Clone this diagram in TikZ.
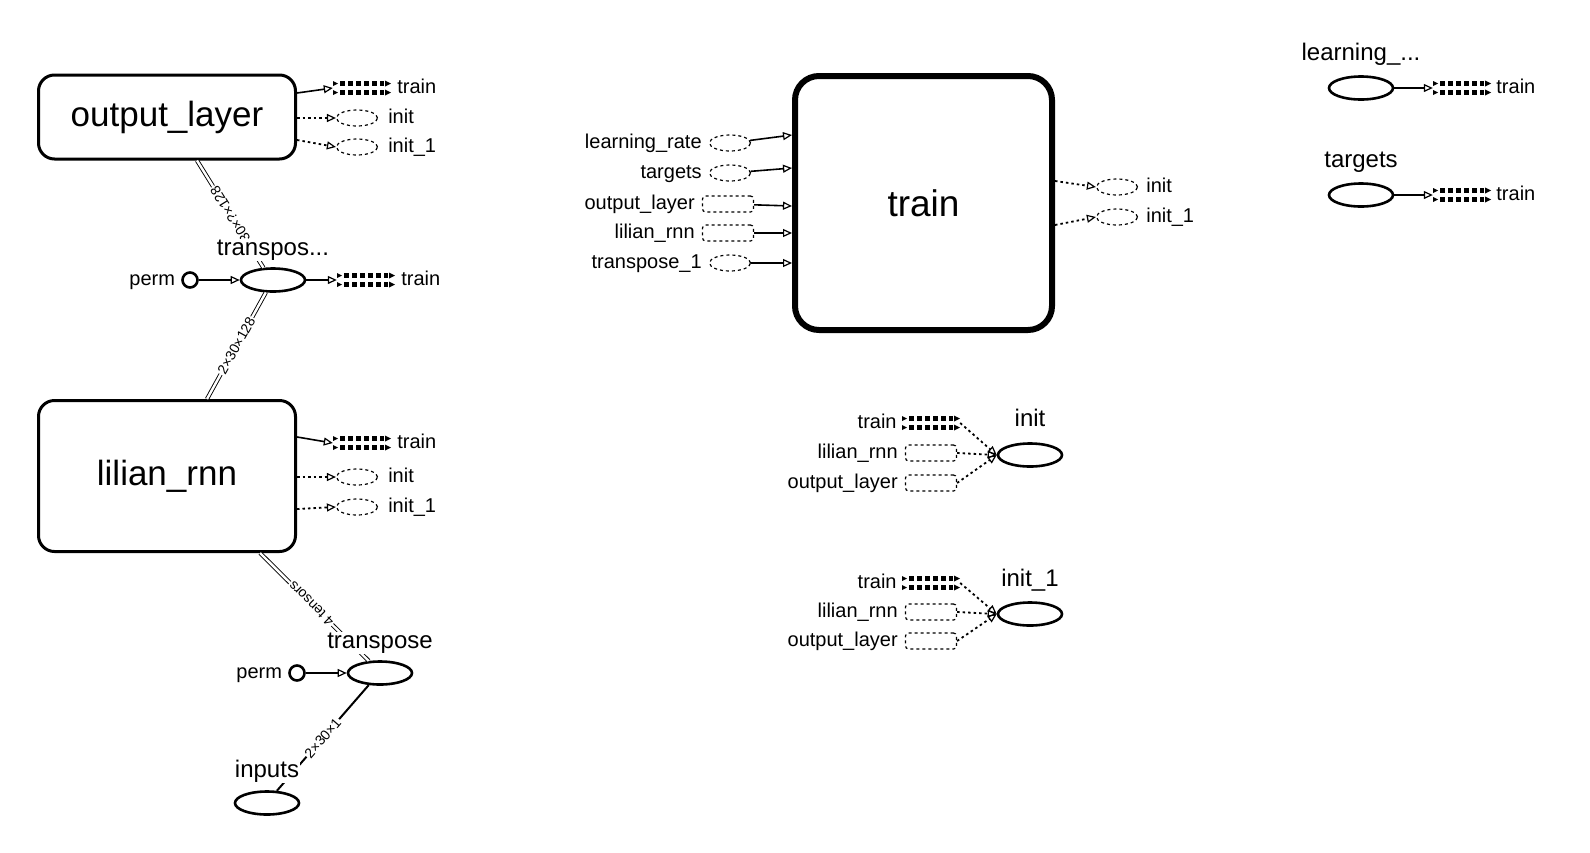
\documentclass[tikz,border=0pt]{standalone}
\usepackage{fontspec}
\setmainfont{Liberation Sans}
\usetikzlibrary{arrows.meta,shapes.geometric,positioning}

\tikzset{
	opnode/.style={ellipse, draw, line width=2.6pt, minimum width=64pt, minimum height=23pt, inner sep=0pt},
	ghostell/.style={ellipse, draw, line width=1.2pt, dash pattern=on 3pt off 3pt, minimum width=41pt, minimum height=16pt, inner sep=0pt},
	ghostbox/.style={rectangle, rounded corners=3pt, draw, line width=1.2pt, dash pattern=on 3pt off 3pt, minimum width=51pt, minimum height=16pt, inner sep=0pt},
	metanode/.style={rectangle, rounded corners=16pt, draw, line width=3pt, inner sep=0pt, font=\fontsize{35}{40}\selectfont},
	constnode/.style={circle, draw, line width=2.6pt, minimum size=15pt, inner sep=0pt},
	seriesbox/.style={rectangle, minimum width=58pt, minimum height=18pt, inner sep=0pt, path picture={
		\foreach \dy in {-4.5pt,4.5pt}{
			\draw[line width=5pt, dash pattern=on 5pt off 3pt] ([xshift=7pt,yshift=\dy]path picture bounding box.west) -- ([xshift=-7pt,yshift=\dy]path picture bounding box.east);
			\fill ([yshift=\dy+2.5pt]path picture bounding box.west) -- ++(5pt,-2.5pt) -- ++(-5pt,-2.5pt) -- cycle;
			\fill ([xshift=-6pt,yshift=\dy+3pt]path picture bounding box.east) -- ++(6pt,-3pt) -- ++(-6pt,-3pt) -- cycle;
		}}},
	lbl/.style={font=\fontsize{20}{22}\selectfont, inner sep=0pt, text height=14pt, text depth=4pt},
	ttl/.style={font=\fontsize{24}{26}\selectfont, inner sep=0.5pt, anchor=base, fill=white},
	dataarr/.style={line width=1.6pt, -{Triangle[open, length=9pt, width=8pt, line width=1.2pt]}},
	ctrlarr/.style={line width=1.8pt, dash pattern=on 2.5pt off 3pt, -{Triangle[open, length=9pt, width=8pt, line width=1.2pt]}},
	tensor/.style={double, double distance=2.4pt, line width=0.9pt},
	edgelbl/.style={font=\fontsize{14}{15}\selectfont, fill=white, inner sep=1pt, sloped, allow upside down},
}

\begin{document}
\begin{tikzpicture}[x=1pt, y=-1pt]
	\useasboundingbox (0,0) rectangle (1590,852);

	% left column
	\node[metanode, minimum width=257pt, minimum height=84pt] (out) at (167,117) {output\_layer};
	\node[metanode, minimum width=257pt, minimum height=151pt] (rnn) at (167,476) {lilian\_rnn};

	\node[seriesbox] (outTr) at (362,88) {};
	\node[lbl, right=6pt of outTr] (outTrL) {train};
	\node[ghostell] (outIn) at (357,118) {};
	\node[lbl, right=10pt of outIn] (outInL) {init};
	\node[ghostell] (outIn1) at (357,147) {};
	\node[lbl, right=10pt of outIn1] (outIn1L) {init\_1};
	\draw[dataarr] ([yshift=24pt]out.east) -- (outTr.west);
	\draw[ctrlarr] (out.east |- outIn.west) -- (outIn.west);
	\draw[ctrlarr] ([yshift=-23pt]out.east) -- (outIn1.west);

	\node[seriesbox] (rnnTr) at (362,443) {};
	\node[lbl, right=6pt of rnnTr] (rnnTrL) {train};
	\node[ghostell] (rnnIn) at (357,477) {};
	\node[lbl, right=10pt of rnnIn] (rnnInL) {init};
	\node[ghostell] (rnnIn1) at (357,507) {};
	\node[lbl, right=10pt of rnnIn1] (rnnIn1L) {init\_1};
	\draw[dataarr] ([yshift=39pt]rnn.east) -- (rnnTr.west);
	\draw[ctrlarr] (rnn.east |- rnnIn.west) -- (rnnIn.west);
	\draw[ctrlarr] ([yshift=-33pt]rnn.east) -- (rnnIn1.west);

	\node[opnode] (tr1) at (273,280) {};
	\node[constnode] (perm1) at (190,280) {};
	\node[lbl, left=6pt of perm1] (perm1L) {perm};
	\node[seriesbox] (tr1Tr) at (366,280) {};
	\node[lbl, right=6pt of tr1Tr] (tr1TrL) {train};
	\draw[dataarr] (perm1) -- (tr1);
	\draw[dataarr] (tr1) -- (tr1Tr);

	\node[opnode] (tr) at (380,673) {};
	\node[constnode] (perm) at (297,673) {};
	\node[lbl, left=6pt of perm] (permL) {perm};
	\draw[dataarr] (perm) -- (tr);

	\node[opnode] (inp) at (267,803) {};

	\draw[tensor] (tr1.128) -- node[edgelbl] {30×?×128} ([xshift=30pt]out.south);
	\draw[tensor] ([xshift=40pt]rnn.north) -- node[edgelbl] {2×30×128} (tr1.240);
	\draw[tensor] (tr.133) -- node[edgelbl, pos=0.53] {4 tensors} ([xshift=93pt]rnn.south);
	\draw[line width=2pt] (inp.51) -- node[edgelbl] {2×30×1} (tr.227);

	\node[ttl] (tr1L) at ([yshift=12pt]tr1.north) {transpos...};
	\node[ttl] (trL) at ([yshift=12pt]tr.north) {transpose};
	\node[ttl] (inpL) at ([yshift=13pt]inp.north) {inputs};

	% train
	\node[metanode, line width=6pt, rounded corners=24pt, minimum width=257pt, minimum height=254pt, font=\fontsize{37}{40}\selectfont] (train) at (923.5,203) {train};

	\node[ghostell] (gLr) at (730,143) {};
	\node[lbl, left=7pt of gLr] (gLrL) {learning\_rate};
	\node[ghostell] (gTg) at (730,173) {};
	\node[lbl, left=7pt of gTg] (gTgL) {targets};
	\node[ghostbox] (gOl) at (728,204) {};
	\node[lbl, left=7pt of gOl] (gOlL) {output\_layer};
	\node[ghostbox] (gRnn) at (728,233) {};
	\node[lbl, left=7pt of gRnn] (gRnnL) {lilian\_rnn};
	\node[ghostell] (gTp) at (730,263) {};
	\node[lbl, left=7pt of gTp] (gTpL) {transpose\_1};
	\draw[dataarr] (gLr) -- ([yshift=68pt]train.west);
	\draw[dataarr] (gTg) -- ([yshift=35pt]train.west);
	\draw[dataarr] (gOl) -- ([yshift=-3pt]train.west);
	\draw[dataarr] (gRnn) -- ([yshift=-30pt]train.west);
	\draw[dataarr] (gTp) -- ([yshift=-60pt]train.west);

	\node[ghostell] (tIn) at (1117,187) {};
	\node[lbl, right=8pt of tIn] (tInL) {init};
	\node[ghostell] (tIn1) at (1117,217) {};
	\node[lbl, right=8pt of tIn1] (tIn1L) {init\_1};
	\draw[ctrlarr] ([yshift=22pt]train.east) -- (tIn.west);
	\draw[ctrlarr] ([yshift=-22pt]train.east) -- (tIn1.west);

	% init
	\node[seriesbox] (iTr) at (931,423) {};
	\node[lbl, left=5pt of iTr] (iTrL) {train};
	\node[ghostbox] (iRnn) at (931,453) {};
	\node[lbl, left=7pt of iRnn] (iRnnL) {lilian\_rnn};
	\node[ghostbox] (iOl) at (931,483) {};
	\node[lbl, left=7pt of iOl] (iOlL) {output\_layer};
	\node[opnode] (init) at (1030,455) {};
	\node[ttl] (initL) at ([yshift=16pt]init.north) {init};
	\draw[ctrlarr] (iTr.east) -- (init.west);
	\draw[ctrlarr] (iRnn.east) -- (init.west);
	\draw[ctrlarr] (iOl.east) -- (init.west);

	% init_1
	\node[seriesbox] (jTr) at (931,583) {};
	\node[lbl, left=5pt of jTr] (jTrL) {train};
	\node[ghostbox] (jRnn) at (931,612) {};
	\node[lbl, left=7pt of jRnn] (jRnnL) {lilian\_rnn};
	\node[ghostbox] (jOl) at (931,641) {};
	\node[lbl, left=7pt of jOl] (jOlL) {output\_layer};
	\node[opnode] (init1) at (1030,614) {};
	\node[ttl] (init1L) at ([yshift=15pt]init1.north) {init\_1};
	\draw[ctrlarr] (jTr.east) -- (init1.west);
	\draw[ctrlarr] (jRnn.east) -- (init1.west);
	\draw[ctrlarr] (jOl.east) -- (init1.west);

	% right column
	\node[opnode] (lrOp) at (1361,88) {};
	\node[ttl] (lrOpL) at ([yshift=15pt]lrOp.north) {learning\_...};
	\node[seriesbox] (lrTr) at (1462,88) {};
	\node[lbl, right=5pt of lrTr] (lrTrL) {train};
	\draw[dataarr] (lrOp) -- (lrTr);

	\node[opnode] (tgOp) at (1361,195) {};
	\node[ttl] (tgOpL) at ([yshift=15pt]tgOp.north) {targets};
	\node[seriesbox] (tgTr) at (1462,195) {};
	\node[lbl, right=5pt of tgTr] (tgTrL) {train};
	\draw[dataarr] (tgOp) -- (tgTr);
\end{tikzpicture}
\end{document}
